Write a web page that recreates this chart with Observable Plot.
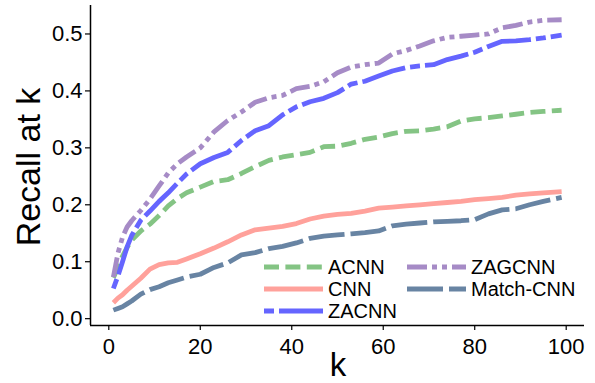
<!DOCTYPE html>
<html>
<head>
<meta charset="utf-8">
<script src="https://cdn.jsdelivr.net/npm/d3@7"></script>
<script src="https://cdn.jsdelivr.net/npm/@observablehq/plot@0.6"></script>
<style>
  html, body { margin: 0; padding: 0; background: #fff; }
  #chart { position: relative; width: 595px; height: 383px; }
  svg { font-family: "Liberation Sans", Arial, sans-serif; }
</style>
</head>
<body>
<div id="chart"></div>
<script>
const ks = [1,2,3,4,5,7,9,11,13,15,17,20,23,26,29,32,35,38,41,44,47,50,53,56,59,62,65,68,71,74,77,80,83,86,89,92,95,99];

const acnn = [.072,.090,.110,.125,.138,.154,.166,.181,.198,.211,.221,.231,.241,.244,.255,.267,.278,.284,.288,.292,.302,.303,.308,.315,.319,.325,.329,.330,.333,.337,.347,.351,.353,.356,.359,.362,.364,.366];
const cnn = [.028,.036,.042,.050,.057,.071,.087,.095,.098,.099,.105,.114,.124,.135,.147,.156,.159,.162,.167,.175,.180,.183,.185,.189,.194,.196,.198,.200,.202,.204,.206,.209,.211,.213,.217,.219,.221,.223];
const zacnn = [.053,.075,.100,.126,.146,.173,.189,.206,.221,.238,.254,.272,.283,.292,.313,.330,.339,.358,.372,.381,.387,.397,.412,.417,.426,.435,.441,.444,.446,.455,.461,.468,.478,.487,.488,.490,.493,.498];
const zagcnn = [.073,.115,.143,.161,.172,.190,.210,.233,.256,.272,.284,.300,.328,.348,.363,.380,.388,.392,.404,.408,.416,.432,.442,.446,.449,.465,.471,.479,.488,.494,.496,.498,.500,.511,.515,.521,.524,.525];
const matchcnn = [.015,.018,.021,.026,.031,.043,.051,.056,.063,.068,.073,.078,.090,.098,.112,.116,.123,.127,.133,.141,.145,.147,.149,.151,.154,.163,.166,.168,.170,.171,.172,.174,.184,.191,.193,.200,.206,.213];

const xTicks = [0,20,40,60,80,100];
const yTicks = [0.0,0.1,0.2,0.3,0.4,0.5];

const seriesNames = ["ACNN","CNN","ZACNN","ZAGCNN","Match-CNN"];
const seriesValues = [acnn, cnn, zacnn, zagcnn, matchcnn];
const styles = {
  "ACNN":      {color: "#84c484", dash: "15,6.4"},
  "CNN":       {color: "#ffa19b", dash: null},
  "ZACNN":     {color: "#6565ff", dash: "10,5,45,5"},
  "ZAGCNN":    {color: "#a68bc6", dash: "20,5,5,5,5,5"},
  "Match-CNN": {color: "#6884a3", dash: "36,6"}
};
const drawOrder = ["ACNN","CNN","ZACNN","ZAGCNN","Match-CNN"];

const xDomain = [-4, 104];
const yDomain = [-0.012, 0.55];

const marks = [];
for (const name of drawOrder) {
  const vals = seriesValues[seriesNames.indexOf(name)];
  const data = ks.map((k, i) => ({k, v: vals[i]}));
  const st = styles[name];
  marks.push(Plot.line(data, {
    x: "k", y: "v",
    stroke: st.color, strokeWidth: 4.8,
    strokeDasharray: st.dash || undefined,
    strokeLinecap: "butt", strokeLinejoin: "round", curve: "linear"
  }));
}
marks.push(Plot.ruleY([yDomain[0]], {stroke: "#000", strokeWidth: 1.5}));
marks.push(Plot.ruleX([xDomain[0]], {stroke: "#000", strokeWidth: 1.5}));
marks.push(Plot.axisX(xTicks, {tickSize: 5, tickPadding: 8, fontSize: 22, label: null, stroke: "#000", strokeWidth: 1.2, color: "#000"}));
marks.push(Plot.axisY(yTicks, {tickSize: 5, tickPadding: 3, fontSize: 22, label: null, tickFormat: d3.format(".1f"), stroke: "#000", strokeWidth: 1.2, color: "#000"}));

const svg = Plot.plot({
  width: 595, height: 383,
  marginLeft: 90, marginRight: 11, marginTop: 5, marginBottom: 58,
  x: {domain: xDomain},
  y: {domain: yDomain},
  style: {fontFamily: '"Liberation Sans", Arial, sans-serif', color: "#000", background: "#fff"},
  marks
});

const s = d3.select(svg);
// axis titles
s.append("text").attr("transform", "translate(40,167) rotate(-90)")
  .attr("text-anchor", "middle").attr("font-size", 34).attr("fill", "#000")
  .text("Recall at k");
s.append("text").attr("x", 338).attr("y", 376)
  .attr("text-anchor", "middle").attr("font-size", 33).attr("fill", "#000")
  .text("k");

// legend
const legendItems = [
  {name: "ACNN", x: 264, y: 267},
  {name: "CNN", x: 264, y: 289},
  {name: "ZACNN", x: 264, y: 311},
  {name: "ZAGCNN", x: 407, y: 267},
  {name: "Match-CNN", x: 407, y: 289}
];
const lg = s.append("g");
for (const it of legendItems) {
  const st = styles[it.name];
  lg.append("line").attr("x1", it.x).attr("x2", it.x + 59).attr("y1", it.y).attr("y2", it.y)
    .attr("stroke", st.color).attr("stroke-width", 4.8)
    .attr("stroke-dasharray", st.dash).attr("stroke-linecap", "butt");
  lg.append("text").attr("x", it.x + 64).attr("y", it.y).attr("dy", "0.35em")
    .attr("text-anchor", "start")
    .attr("font-size", 20).attr("fill", "#000").text(it.name);
}

document.getElementById("chart").appendChild(svg);
</script>
</body>
</html>
